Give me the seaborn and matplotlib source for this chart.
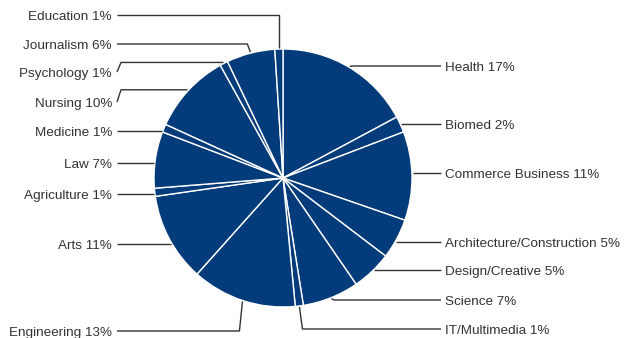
import numpy as np
import matplotlib
matplotlib.use("Agg")
import matplotlib.pyplot as plt
import seaborn as sns

# Study areas, listed clockwise from 12 o'clock
areas = ["Health", "Biomed", "Commerce Business", "Architecture/Construction",
         "Design/Creative", "Science", "IT/Multimedia", "Engineering", "Arts",
         "Agriculture", "Law", "Medicine", "Nursing", "Psychology",
         "Journalism", "Education"]
shares = [17, 2, 11, 5, 5, 7, 1, 13, 11, 1, 7, 1, 10, 1, 6, 1]

# Label layout: side of the chart, vertical position (px from top) and
# where the connector bends ("pie" = next to the wedge, "label" = next to the text)
label_side = ["R", "R", "R", "R", "R", "R", "R", "L", "L",
              "L", "L", "L", "L", "L", "L", "L"]
label_y = [66, 124, 173, 242, 270, 300, 329, 331, 244,
           194, 163, 131, 102, 72, 44, 15]
bend_at = ["pie", "pie", "pie", "pie", "pie", "pie", "pie", "pie", "pie",
           "pie", "pie", "pie", "label", "label", "pie", "pie"]

W, H = 636, 338
CX, CY, R = 283, 178, 129
LEFT_TEXT_X, LEFT_LINE_X = 112, 117
RIGHT_TEXT_X, RIGHT_LINE_X = 445, 441
FONT_SIZE = 9.7
CAP_HALF = 0.716 * FONT_SIZE * 100 / 72 / 2   # half cap height in px

sns.set_style("white")
plt.rcParams["font.family"] = ["Liberation Sans", "DejaVu Sans"]

navy = "#043b7a"
ink = "#333333"

fig = plt.figure(figsize=(W / 100, H / 100), dpi=100)
ax = fig.add_axes([0, 0, 1, 1])

wedges, _ = ax.pie(shares, colors=[navy] * len(shares), startangle=90,
                   counterclock=False, center=(CX, H - CY), radius=R,
                   wedgeprops=dict(edgecolor="white", linewidth=1.0))
ax.set_xlim(0, W)
ax.set_ylim(0, H)
ax.set_aspect("equal", adjustable="box")
ax.axis("off")

for w, name, pct, side, ly, bend in zip(wedges, areas, shares, label_side,
                                         label_y, bend_at):
    mid = np.deg2rad((w.theta1 + w.theta2) / 2)
    ax_x = CX + (R + 1) * np.cos(mid)
    ax_y = (H - CY) + (R + 1) * np.sin(mid)
    y = H - ly
    if side == "R":
        end_x = RIGHT_LINE_X
        sgn = 1
    else:
        end_x = LEFT_LINE_X
        sgn = -1
    if abs(ax_y - y) < 7 and abs(np.sin(mid)) < 0.8:
        # straight leader that starts on the rim at the label's height
        dy = y - (H - CY)
        edge_x = CX + sgn * (np.sqrt(max(R ** 2 - dy ** 2, 0)) + 1)
        xs, ys = [edge_x, end_x], [y, y]
    elif bend == "pie":
        bx = ax_x + sgn * 3
        if abs(ax_x - CX) < 10:
            bx = ax_x
        xs, ys = [ax_x, bx, end_x], [ax_y, y, y]
    else:
        bx = end_x - sgn * 4
        xs, ys = [ax_x, bx, end_x], [ax_y, ax_y, y]
    ax.plot(xs, ys, color=ink, lw=1.0, solid_capstyle="butt")
    text = f"{name} {pct}%"
    tx = RIGHT_TEXT_X if side == "R" else LEFT_TEXT_X
    ax.text(tx, y - CAP_HALF, text, ha="left" if side == "R" else "right",
            va="baseline", fontsize=FONT_SIZE, color=ink)

fig.savefig("out.png", dpi=100, facecolor="white")
